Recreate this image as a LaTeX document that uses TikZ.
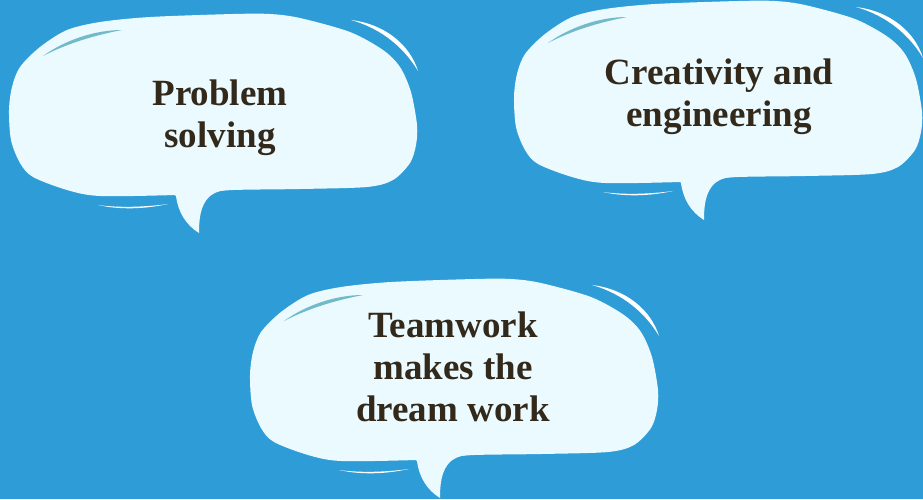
\documentclass[tikz,border=0pt]{standalone}
\usepackage{fontspec}
\setmainfont{Liberation Serif}
\usepackage{tikz}

\definecolor{skyblue}{RGB}{46,156,214}
\definecolor{bubblefill}{RGB}{234,250,255}
\definecolor{glintteal}{RGB}{112,186,201}
\definecolor{inkbrown}{RGB}{51,41,26}

\tikzset{
  saying/.style={text=inkbrown, align=center, font=\fontsize{37}{42}\selectfont\bfseries},
  pics/speech/.style={code={
    % body of the bubble
    \fill[bubblefill] plot[smooth cycle, tension=0.5] coordinates {
      (9,110) (12,87) (20,67) (40,47) (67,30) (100,22) (150,17) (233,14)
      (270,14) (300,18) (350,32) (383,50) (400,67) (411,92) (417,125)
      (416,145) (410,163) (393,180) (367,187) (300,189) (233,190) (200,193)
      (175,195) (100,196) (67,190) (33,177) (20,163) (11,140)};
    % tail
    \fill[bubblefill] (172,192) -- (176,196) .. controls (178,212) and (186,225) .. (199,233)
      .. controls (199,220) and (200,205) .. (210,196) .. controls (216,191) and (224,190) .. (235,189) -- cycle;
    % highlights
    \fill[glintteal] (43,56) .. controls (65,40) and (95,30) .. (122,30)
      .. controls (96,35) and (68,43) .. (43,56) -- cycle;
    \fill[white] (351,20) .. controls (385,24) and (410,45) .. (418,71)
      .. controls (405,49) and (383,29) .. (351,20) -- cycle;
    \fill[white] (98,205) .. controls (120,210) and (145,209) .. (168,204)
      .. controls (145,207) and (120,208) .. (98,205) -- cycle;
  }},
}

\begin{document}
\begin{tikzpicture}[x=1pt, y=-1pt]
  % 1. Background
  \fill[skyblue] (0,0) rectangle (923,499);
  \useasboundingbox (0,0) rectangle (923,499);
  \clip (0,0) rectangle (923,499);

  % 2. Bubbles
  \pic (left)   at (0,0)     {speech};
  \pic (right)  at (505,-13) {speech};
  \pic (bottom) at (241,265) {speech};

  % 3. Sayings
  \node[saying] (problem)    at (220,118) {Problem\\solving};
  \node[saying] (creativity) at (719,97)  {Creativity and\\engineering};
  \node[saying] (teamwork)   at (453,367) {Teamwork\\makes the\\dream work};
\end{tikzpicture}
\end{document}
